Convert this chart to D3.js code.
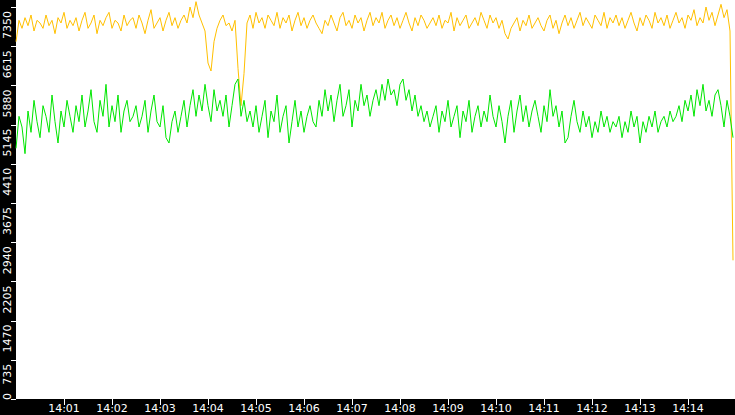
<!DOCTYPE html>
<html><head><meta charset="utf-8">
<script src="https://cdn.jsdelivr.net/npm/d3@7"></script>
<style>body{margin:0;background:#000}svg{display:block}text{font-family:"DejaVu Sans",sans-serif;font-size:11px;fill:#fff}</style>
</head><body><svg id="c" width="735" height="415"></svg>
<script>
const yTicks = [0, 735, 1470, 2205, 2940, 3675, 4410, 5145, 5880, 6615, 7350];
const xTickMinutes = [1,2,3,4,5,6,7,8,9,10,11,12,13,14];
const stepSeconds = 3.75;
const upper = [
6700,7100,6950,7150,7000,7200,6900,7100,7050,6950,7200,7000,7100,6850,7150,7050,7250,6950,7100,7000,
7150,6900,7100,7250,6950,7050,7200,6850,7100,7000,7150,7250,6950,7100,7050,6900,7200,7000,7100,7150,
6950,7200,7050,6850,7100,7300,6950,7050,7150,6900,7100,7250,7000,7150,6950,7100,7200,7050,7350,7150,
7450,7200,7050,6900,6300,6150,6700,6950,7100,7200,7000,7050,6900,7100,6200,5500,6100,7050,7200,6950,
7250,7050,7150,6950,7200,7100,7000,7250,6950,7150,7050,7200,6900,7100,7250,7000,7150,6950,7100,7200,
7050,6950,6850,7100,7000,7200,7050,6900,7150,7250,7000,7100,6950,7200,7050,7150,6900,7100,7250,7000,
7150,7050,7250,6950,7100,7200,7000,7150,6950,7100,7250,7050,6900,7150,7000,7200,7100,6950,7050,7150,
7000,7200,6950,7100,7050,7250,6900,7150,7000,7100,7200,6950,7050,7150,7000,7250,7100,6950,7200,7050,
7150,6950,7100,6850,6750,6950,7050,7150,6900,7100,7000,7200,6950,7050,7150,7000,6900,7100,7200,6950,
7100,6850,7050,7200,7000,7150,6950,7100,7250,7000,7150,7050,6950,7200,7100,7000,7250,6950,7150,7050,
7200,7000,7150,6950,7100,7250,7050,6900,7150,7000,7200,7100,6950,7250,7050,7150,7000,7200,6950,7100,
7250,7050,7150,6950,7200,7100,7300,7000,7150,7050,7350,7100,7250,7000,7200,7400,7150,7300,6900,2600];
const lower = [
4700,5300,5100,4600,5400,5000,5600,5200,4900,5500,5300,5000,5700,5200,4800,5400,5100,5600,5300,5000,
5500,5200,5700,5100,5400,5800,5200,5000,5600,5300,5900,5100,5500,5200,5700,5000,5400,5600,5200,5300,
5500,5100,5300,5600,5000,5400,5700,5200,5100,5500,4900,4800,5200,5400,5000,5300,5600,5100,5500,5800,
5300,5700,5400,5900,5500,5200,5800,5400,5600,5300,5700,5100,5500,5900,6000,5300,5600,5200,5400,5100,
5500,5000,5300,5600,4900,5400,5200,5700,5000,5300,5500,4800,5200,5600,5100,5400,5000,5300,5500,5200,
5100,5600,5300,5800,5400,5700,5200,5600,5900,5300,5500,5800,5100,5600,5400,5900,5500,5700,5300,5600,
5800,5500,5900,5600,6000,5700,5800,5500,5900,6000,5600,5800,5400,5700,5300,5500,5200,5400,5100,5300,
5500,5000,5400,5200,5600,5100,5300,5500,4900,5400,5200,5600,5000,5300,5500,5100,5400,5200,5700,5300,
5100,5500,5200,4800,5300,5600,5000,5400,5700,5200,5500,5100,5400,5600,5300,5000,5500,5200,5800,5300,
5500,5100,5400,4800,4900,5300,5600,5200,5000,5400,5100,5300,4900,5200,5000,5400,5100,5300,5000,5200,
5100,5300,4900,5200,5000,5400,5100,5300,4800,5200,5000,5300,5100,5400,5000,5200,5300,5100,5400,5200,
5300,5500,5200,5600,5400,5700,5300,5800,5500,5900,5400,5600,5300,5700,5800,5500,5100,5600,5300,4900];

const svg = d3.select("#c");
const W = 735, left = 16, bottom = 399;
const t0 = new Date(2020, 0, 1, 14, 0, 0);
const x = d3.scaleTime().domain([t0, new Date(+t0 + 15 * 60000)]).range([left, left + 720]);
const y = d3.scaleLinear().domain([0, 7350]).range([bottom, 7]);

svg.append("rect").attr("x", left).attr("y", 0).attr("width", W - left).attr("height", bottom).attr("fill", "#fff");

const line = d3.line()
	.x((d, i) => x(new Date(+t0 + i * stepSeconds * 1000)))
	.y((d) => y(d));

const plot = svg.append("g");
plot.append("path").datum(upper).attr("d", line).attr("fill", "none").attr("stroke", "#ffc000").attr("stroke-width", 1);
plot.append("path").datum(lower).attr("d", line).attr("fill", "none").attr("stroke", "#00e600").attr("stroke-width", 1);

// y axis, labels hang below their tick
const yAxis = svg.append("g");
yAxis.selectAll("line").data(yTicks).join("line")
	.attr("x1", 11).attr("x2", 16).attr("y1", (d) => Math.round(y(d)) + 0.5).attr("y2", (d) => Math.round(y(d)) + 0.5)
	.attr("stroke", "#fff");
yAxis.selectAll("text").data(yTicks).join("text")
	.attr("transform", (d) => `translate(11,${d === 0 ? 400 : y(d) + 4}) rotate(-90)`)
	.attr("text-anchor", (d) => (d === 0 ? "start" : "end"))
	.text((d) => d);

// x axis
const xAxis = svg.append("g");
const xt = xTickMinutes.map((m) => new Date(+t0 + m * 60000));
xAxis.selectAll("line").data(xt).join("line")
	.attr("x1", (d) => Math.round(x(d)) + 0.5).attr("x2", (d) => Math.round(x(d)) + 0.5)
	.attr("y1", 399).attr("y2", 405).attr("stroke", "#fff");
xAxis.selectAll("text").data(xt).join("text")
	.attr("x", (d) => x(d)).attr("y", 412)
	.attr("text-anchor", "middle")
	.text(d3.timeFormat("%H:%M"));
</script></body></html>
